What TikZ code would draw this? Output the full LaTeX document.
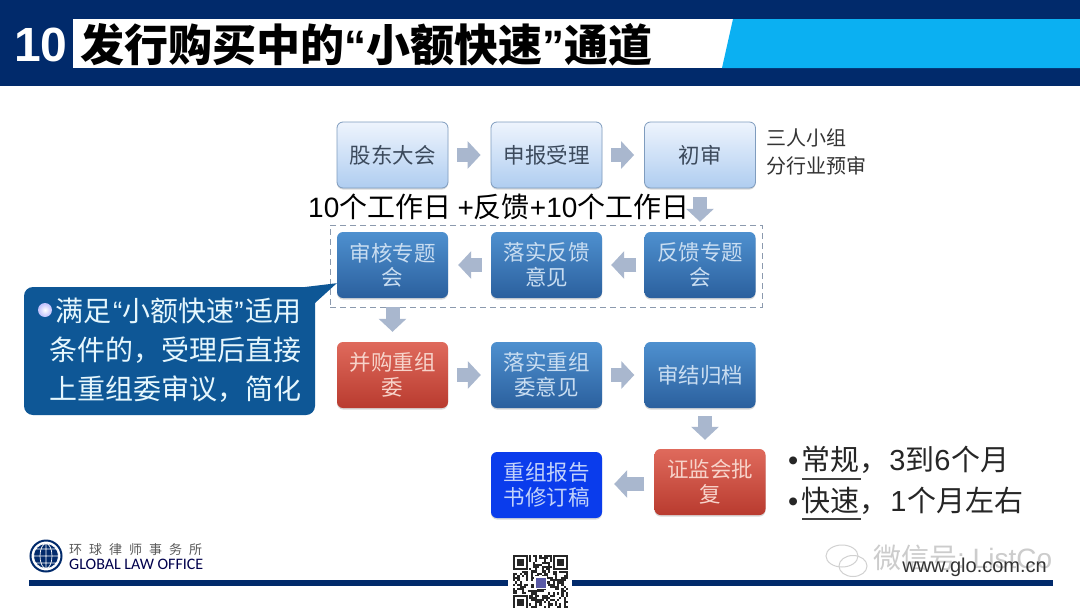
\documentclass[tikz,border=0pt]{standalone}
\usepackage{fontspec}
\setmainfont{Noto Sans CJK SC}
\newfontfamily\lat{Liberation Sans}
\newfontfamily\logofont{Carlito}
\usetikzlibrary{arrows.meta,calc,shadows,shapes.geometric}
\newcommand{\fsz}[2]{\fontsize{#1}{#2}\selectfont}
\definecolor{navy}{HTML}{012A6B}
\definecolor{cyanbar}{HTML}{0BB0F2}
\definecolor{arrowgrey}{HTML}{A9B7CE}
\definecolor{callblue}{HTML}{0E5796}
\definecolor{lighttop}{HTML}{EEF4FD}
\definecolor{lightbot}{HTML}{AFCDF0}
\definecolor{lightedge}{HTML}{7F9CBE}
\definecolor{lighttxt}{HTML}{3C4A5C}
\definecolor{bluetop}{HTML}{4E90CF}
\definecolor{bluemid}{HTML}{3D7DBE}
\definecolor{bluebot}{HTML}{2B609E}
\definecolor{bluetxt}{HTML}{C9DDF1}
\definecolor{redtop}{HTML}{DF6A5C}
\definecolor{redbot}{HTML}{B93B2F}
\definecolor{redtxt}{HTML}{F7D3CA}
\definecolor{brightfill}{HTML}{0A3CEC}
\definecolor{brighttxt}{HTML}{C2D2FA}
\definecolor{bandedge}{HTML}{8C9AAE}
\tikzset{
  stepbase/.style={rounded corners=6pt,minimum width=111pt,minimum height=66pt,inner sep=0pt,align=center,
    drop shadow={shadow xshift=0pt,shadow yshift=-1.5pt,opacity=.3},font=\fsz{21.5}{24.5}},
  lightbox/.style={stepbase,draw=lightedge,line width=.8pt,top color=lighttop,bottom color=lightbot,text=lighttxt},
  bluebox/.style={stepbase,top color=bluetop,bottom color=bluebot,text=bluetxt},
  redbox/.style={stepbase,top color=redtop,bottom color=redbot,text=redtxt},
  brightbox/.style={stepbase,fill=brightfill,text=brighttxt},
  blk/.style={draw=arrowgrey,line width=14pt,-{Triangle[length=13pt,width=27pt]}},
  sidetxt/.style={inner sep=0pt,anchor=west,text=black!80},
  listtxt/.style={inner sep=0pt,anchor=west,text=black!85,font=\fsz{29}{30}},
}
\begin{document}
\begin{tikzpicture}[x=1pt,y=-1pt]
\useasboundingbox (0,0) rectangle (1080,608);
\fill[white] (0,0) rectangle (1080,608);
% header
\fill[navy] (0,0) rectangle (1080,86);
\fill[white] (73,19) rectangle (734,68);
\fill[cyanbar] (733,19) -- (1080,19) -- (1080,68) -- (722,68) -- cycle;
\node[inner sep=0pt,text=white,font=\fsz{48}{48}\lat\bfseries] (num) at (41,45) {10};
\node[inner sep=0pt,anchor=west,text=black,font=\fsz{44}{46}\bfseries] (title) at (80,45) {发行购买中的{\lat “}小额快速{\lat ”}通道};
% dashed band
\node[draw=bandedge,line width=1pt,dash pattern=on 6pt off 4pt,minimum width=432pt,minimum height=82pt,inner sep=0pt] (band) at (546,266) {};
% boxes
\node[lightbox] (a1) at (392.5,155) {股东大会};
\node[lightbox] (a2) at (546.5,155) {申报受理};
\node[lightbox] (a3) at (700,155) {初审};
\node[bluebox] (b3) at (700,265) {反馈专题\\会};
\node[bluebox] (b2) at (546.5,265) {落实反馈\\意见};
\node[bluebox] (b1) at (392.5,265) {审核专题\\会};
\node[redbox] (c1) at (392.5,375) {并购重组\\委};
\node[bluebox] (c2) at (546.5,375) {落实重组\\委意见};
\node[bluebox] (c3) at (700,375) {审结归档};
\node[redbox] (d2) at (710,482) {证监会批\\复};
\node[brightbox] (d1) at (546.5,485) {重组报告\\书修订稿};
% block arrows
\draw[blk] ($(a1.east)+(9,0)$) -- ($(a2.west)+(-10,0)$);
\draw[blk] ($(a2.east)+(9,0)$) -- ($(a3.west)+(-10,0)$);
\draw[blk] ($(a3.south)+(0,9)$) -- ($(b3.north)+(0,-10)$);
\draw[blk] ($(b3.west)+(-8,0)$) -- ($(b2.east)+(9,0)$);
\draw[blk] ($(b2.west)+(-9,0)$) -- ($(b1.east)+(10,0)$);
\draw[blk] ($(b1.south)+(0,9)$) -- ($(c1.north)+(0,-10)$);
\draw[blk] ($(c1.east)+(9,0)$) -- ($(c2.west)+(-10,0)$);
\draw[blk] ($(c2.east)+(9,0)$) -- ($(c3.west)+(-10,0)$);
\draw[blk] ($(c3.south)+(5,8)$) -- ($(d2.north)+(-5,-9)$);
\draw[blk] ($(d2.west)+(-10,2)$) -- ($(d1.east)+(12,-1)$);
% annotations
\node[inner sep=0pt,anchor=west,text=black,font=\fsz{28}{30}] (span) at (308,207) {{\lat 10}个工作日 {\lat +}反馈{\lat +10}个工作日};
\node[sidetxt,font=\fsz{20}{28},align=left] (side) at (766,152) {三人小组\\分行业预审};
% callout
\node[fill=callblue,rounded corners=9pt,minimum width=291pt,minimum height=128pt,inner sep=0pt] (call) at (169.5,351) {};
\fill[callblue] (305,287) -- ($(b1.south west)+(0,-15)$) -- (315,303) -- cycle;
\shade[inner color=white,outer color=black!5!blue!25!white] (45,310) circle (7);
\node[inner sep=0pt,anchor=east,align=right,text=white!90!cyan,font=\fsz{28}{39}] (calltxt) at (302,350) {满足\hspace{2pt}{\lat “}小额快速{\lat ”}\hspace{2pt}适用\\条件的，受理后直接\\上重组委审议，简化};
% list
\node[listtxt] (l1) at (788,460) {{\lat •}\hspace{3pt}常规，\hspace{1pt}{\lat 3}到{\lat 6}\hspace{1pt}个月};
\node[listtxt] (l2) at (788,501) {{\lat •}\hspace{3pt}快速，\hspace{2pt}{\lat 1}\hspace{1pt}个月左右};
\draw[black!75,line width=1.3pt] (802,479) -- (861,479);
\draw[black!75,line width=1.3pt] (802,519) -- (861,519);
% footer
\fill[navy] (29,580) rectangle (508,586);
\fill[navy] (572,580) rectangle (1053,586);
% logo
\draw[navy,line width=2pt] (46,556) circle (15.5);
\fill[navy] (46,556) circle (12.5);
\draw[white,line width=.7pt] (46,556) circle (12.5) (46,543.5) -- (46,568.5) (33.5,556) -- (58.5,556) (36,549) -- (56,549) (36,563) -- (56,563);
\draw[white,line width=.7pt] (46,556) ellipse (6 and 12.5);
\node[inner sep=0pt,anchor=west,text=black!65,font=\fsz{13}{14}] (lg1) at (69,550) {环\hspace{7pt}球\hspace{7pt}律\hspace{7pt}师\hspace{7pt}事\hspace{7pt}务\hspace{7pt}所};
\node[inner sep=0pt,anchor=west,text=black!70!blue,font=\fsz{16}{16}\logofont] (lg2) at (69,564) {GLOBAL LAW OFFICE};
% QR
\pgfmathsetseed{11}
\begin{scope}[shift={(513,555)}]
\foreach \i in {0,...,24}{\foreach \j in {0,...,24}{
  \pgfmathrandominteger{\rr}{0}{99}
  \ifnum\rr<52 \fill[black!85] (\i*2.2,\j*2.2) rectangle ++(2.2,2.2);\fi
}}
\foreach \px/\py in {0/0,39.6/0,0/39.6}{
  \fill[white] (\px-1,\py-1) rectangle ++(17.4,17.4);
  \fill[black!85] (\px,\py) rectangle ++(15.4,15.4);
  \fill[white] (\px+2.2,\py+2.2) rectangle ++(11,11);
  \fill[black!85] (\px+4.4,\py+4.4) rectangle ++(6.6,6.6);
}
\fill[white] (21,21) rectangle ++(13,13);
\fill[blue!30!gray] (22.5,22.5) rectangle ++(10,10);
\end{scope}
% watermark
\draw[black!18,line width=1pt] (842,556) ellipse (16 and 11);
\draw[black!18,line width=1pt] (853,566) ellipse (14 and 10.5);
\node[inner sep=0pt,anchor=west,text=black!20,font=\fsz{28}{30}] (wm) at (873,558) {微信号{\lat :}{\lat\ ListCo}};
\node[inner sep=0pt,anchor=east,text=black!80,font=\fsz{20}{22}\lat] (web) at (1047,567) {www.glo.com.cn};
\end{tikzpicture}
\end{document}
